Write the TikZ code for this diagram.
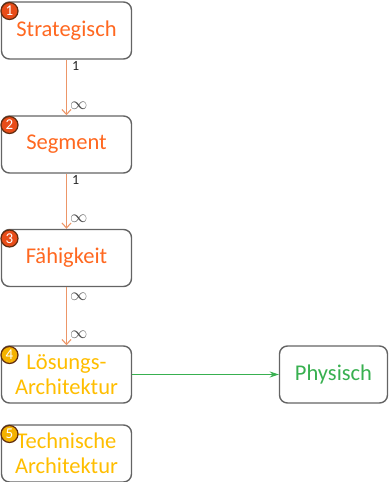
\documentclass[tikz,border=0pt]{standalone}
\usepackage{fontspec}
\setmainfont{Carlito}
\usepackage{xcolor}
\usepackage{tikz}
\usetikzlibrary{arrows.meta}
\usetikzlibrary{positioning}
\definecolor{stratorange}{RGB}{255,104,32}
\definecolor{techyellow}{RGB}{255,190,0}
\definecolor{physgreen}{RGB}{56,176,80}
\definecolor{linkorange}{RGB}{236,150,104}
\definecolor{boxgray}{RGB}{100,100,100}
\definecolor{badgered}{RGB}{232,76,24}
\definecolor{badgegold}{RGB}{244,178,0}
\definecolor{badgerim}{RGB}{96,44,16}
\tikzstyle{levelnode}=[draw=boxgray, line width=1.4pt, shape=rectangle, rounded corners=8pt, fill=white, minimum width=130pt, minimum height=57pt, align=center, font=\fontsize{22.5}{25}\selectfont]
\tikzstyle{redbadge}=[draw=badgerim, line width=1.2pt, shape=circle, fill=badgered, text=white, minimum size=17pt, inner sep=0pt, font=\fontsize{15}{15}\selectfont]
\tikzstyle{goldbadge}=[draw=badgerim, line width=1.2pt, shape=circle, fill=badgegold, text=white, minimum size=17pt, inner sep=0pt, font=\fontsize{15}{15}\selectfont]
\tikzstyle{multlabel}=[inner sep=0pt, text=black!85, font=\fontsize{14}{14}\selectfont]
\tikzstyle{inflabel}=[inner sep=0pt, text=black!70, font=\fontsize{19}{19}\selectfont]

\begin{document}
\begin{tikzpicture}[x=1pt, y=1pt]
\useasboundingbox (0,0) rectangle (390,-482);
\node [levelnode, text=stratorange] (strat) at (66.5,-30.5) {Strategisch};
\node [levelnode, text=stratorange] (segment) at (66.5,-144.5) {Segment};
\node [levelnode, text=stratorange] (faehig) at (66.5,-258) {Fähigkeit};
\node [levelnode, text=techyellow] (loesung) at (66.5,-374.5) {Lösungs-\\Architektur};
\node [levelnode, text=techyellow] (technik) at (66.5,-453.5) {Technische\\Architektur};
\node [levelnode, text=physgreen, minimum width=108pt] (phys) at (333.5,-374.5) {Physisch};

\node [redbadge] (badge1) at (9.5,-11) {1};
\node [redbadge] (badge2) at (9.5,-125) {2};
\node [redbadge] (badge3) at (9.5,-238.5) {3};
\node [goldbadge] (badge4) at (9.5,-355) {4};
\node [goldbadge] (badge5) at (9.5,-434) {5};

\draw[-{Straight Barb[length=5pt, width=9pt]}, line width=1.1pt, color=linkorange] (strat) -- (segment)
  node [multlabel, pos=0.12, right=5pt] (one1) {1}
  node [inflabel, pos=0.82, right=3pt] (inf1) {$\infty$};
\draw[-{Straight Barb[length=5pt, width=9pt]}, line width=1.1pt, color=linkorange] (segment) -- (faehig)
  node [multlabel, pos=0.12, right=5pt] (one2) {1}
  node [inflabel, pos=0.82, right=3pt] (inf2) {$\infty$};
\draw[-{Straight Barb[length=5pt, width=9pt]}, line width=1.1pt, color=linkorange] (faehig) -- (loesung)
  node [inflabel, pos=0.17, right=3pt] (inf3) {$\infty$}
  node [inflabel, pos=0.82, right=3pt] (inf4) {$\infty$};
\draw[-{Stealth[length=9pt, width=6pt]}, line width=1.4pt, color=physgreen] (loesung) -- (phys);
\end{tikzpicture}
\end{document}
